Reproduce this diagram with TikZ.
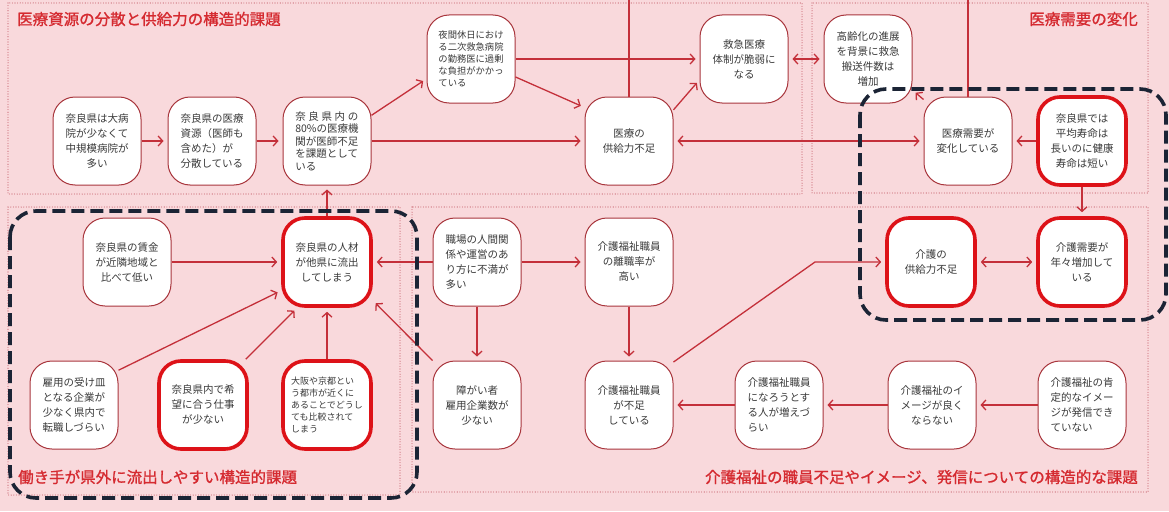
\documentclass[tikz,border=0pt]{standalone}
\usepackage{fontspec}
\setmainfont{Noto Sans CJK JP}
\newfontfamily\ttlfont{Noto Sans CJK JP}[FakeBold=1.2]
\usetikzlibrary{arrows.meta}
\definecolor{bgpink}{HTML}{F9D9DC}
\definecolor{dotred}{HTML}{C45A66}
\definecolor{linered}{HTML}{C4303A}
\definecolor{boxred}{HTML}{A8353C}
\definecolor{thickred}{HTML}{DD1218}
\definecolor{navy}{HTML}{1B2435}
\definecolor{ttlred}{HTML}{D52A30}
\definecolor{txt}{HTML}{3A3A3A}
\begin{document}
\begin{tikzpicture}[x=1pt,y=-1pt,
  box/.style={rectangle, rounded corners=22pt, minimum width=88pt, minimum height=88pt, fill=white, draw=boxred, line width=1pt, inner sep=0pt, text=txt, font=\fontsize{10.5}{15}\selectfont, align=center},
  hbox/.style={box, draw=thickred, line width=3.6pt},
  conn/.style={draw=linered, line width=1.3pt, -{Straight Barb[length=4.5pt,width=10pt]}, shorten >=4pt},
  dconn/.style={conn, {Straight Barb[length=4.5pt,width=10pt]}-{Straight Barb[length=4.5pt,width=10pt]}, shorten <=4pt},
  plain/.style={draw=linered, line width=1.3pt},
  region/.style={draw=dotred, line width=1.1pt, line cap=round, dash pattern=on 0pt off 2.6pt},
  frame/.style={draw=navy, line width=3.6pt, dash pattern=on 13pt off 6pt, rounded corners=26pt},
  ttl/.style={text=ttlred, font=\ttlfont\fontsize{15.5}{18}\selectfont, inner sep=0pt}
]
\fill[bgpink] (0,0) rectangle (1169,511);
\useasboundingbox (0,0) rectangle (1169,511);

% regions
\draw[region] (8,3) rectangle (802,194);
\draw[region] (812,3) rectangle (1148,193);
\draw[region] (8,207) rectangle (400,495);
\draw[region] (412,207) rectangle (1148,492);

% titles
\node[ttl, anchor=west] (t-a) at (17,19) {医療資源の分散と供給力の構造的課題};
\node[ttl, anchor=east] (t-b) at (1138,19) {医療需要の変化};
\node[ttl, anchor=west] (t-c) at (18,477) {働き手が県外に流出しやすい構造的課題};
\node[ttl, anchor=east] (t-d) at (1138,477) {介護福祉の職員不足やイメージ、発信についての構造的な課題};

% nodes
\node[box] (n1) at (97,141) {奈良県は大病\\院が少なくて\\中規模病院が\\多い};
\node[box, align=left] (n2) at (212,141) {奈良県の医療\\資源（医師も\\含めた）が\\分散している};
\node[box, align=left, font=\fontsize{10.5}{12.5}\selectfont] (n3) at (327,141) {\makebox[63pt][s]{奈\hfill 良\hfill 県\hfill 内\hfill の}\\80\%の医療機\\関が医師不足\\を課題として\\いる};
\node[box, align=left, font=\fontsize{9.3}{12}\selectfont] (n4) at (471,59) {夜間休日におけ\\る二次救急病院\\の勤務医に過剰\\な負担がかかっ\\ている};
\node[box] (n5) at (744,59) {救急医療\\体制が脆弱に\\なる};
\node[box] (n6) at (629,141) {医療の\\供給力不足};
\node[box] (n7) at (868,59) {高齢化の進展\\を背景に救急\\搬送件数は\\増加};
\node[box] (n8) at (968,141) {医療需要が\\変化している};
\node[hbox] (n9) at (1082,141) {奈良県では\\平均寿命は\\長いのに健康\\寿命は短い};
\node[box] (n10) at (127,262) {奈良県の賃金\\が近隣地域と\\比べて低い};
\node[hbox] (n11) at (327,262) {奈良県の人材\\が他県に流出\\してしまう};
\node[box, align=left] (n12) at (74,405) {雇用の受け皿\\となる企業が\\少なく県内で\\転職しづらい};
\node[hbox] (n13) at (203,405) {奈良県内で希\\望に合う仕事\\が少ない};
\node[hbox, align=left, font=\fontsize{9}{12}\selectfont] (n14) at (327,405) {大阪や京都とい\\う都市が近くに\\あることでどうし\\ても比較されて\\しまう};
\node[box, align=left] (n15) at (477,262) {職場の人間関\\係や運営のあ\\り方に不満が\\多い};
\node[box] (n16) at (629,262) {介護福祉職員\\の離職率が\\高い};
\node[box] (n17) at (477,405) {障がい者\\雇用企業数が\\少ない};
\node[box] (n18) at (629,405) {介護福祉職員\\が不足\\している};
\node[box, align=left] (n19) at (779,405) {介護福祉職員\\になろうとす\\る人が増えづ\\らい};
\node[hbox] (n20) at (931,262) {介護の\\供給力不足};
\node[hbox] (n21) at (1082,262) {介護需要が\\年々増加して\\いる};
\node[box] (n22) at (932,405) {介護福祉のイ\\メージが良く\\ならない};
\node[box, align=left] (n23) at (1082,405) {介護福祉の肯\\定的なイメー\\ジが発信でき\\ていない};

\coordinate (t1) at (629,0);
\coordinate (t2) at (968,0);
\coordinate (b1) at (815,262);

% connectors
\draw[conn] (n1) -- (n2);
\draw[conn] (n2) -- (n3);
\draw[conn] (n3.30) -- (n4.204);
\draw[conn] (n3) -- (n6);
\draw[conn] (n4) -- (n5);
\draw[conn] (n4.-22) -- (n6.143);
\draw[conn] (n6.35) -- (n5.205);
\draw[dconn] (n5) -- (n7);
\draw[dconn] (n6) -- (n8);
\draw[conn] (n8.137) -- (n7.-35);
\draw[conn] (n9) -- (n8);
\draw[conn] (n9) -- (n21);
\draw[plain] (t1) -- (n6.north);
\draw[plain] (t2) -- (n8.north);
\draw[conn] (n11) -- (n3);
\draw[conn] (n10) -- (n11);
\draw[conn] (n12.38) -- (n11.212);
\draw[conn] (n13.47) -- (n11.237);
\draw[conn] (n14) -- (n11);
\draw[conn] (n15) -- (n11);
\draw[conn] (n17.135) -- (n11.-40);
\draw[conn] (n15) -- (n16);
\draw[conn] (n15) -- (n17);
\draw[conn] (n16) -- (n18);
\draw[conn] (n18.44) -- (b1) -- (n20);
\draw[conn] (n19) -- (n18);
\draw[conn] (n22) -- (n19);
\draw[conn] (n23) -- (n22);
\draw[dconn] (n20) -- (n21);

% dashed frames
\draw[frame] (10,211) rectangle (417,498);
\draw[frame] (860,89) rectangle (1166,320);
\end{tikzpicture}
\end{document}
